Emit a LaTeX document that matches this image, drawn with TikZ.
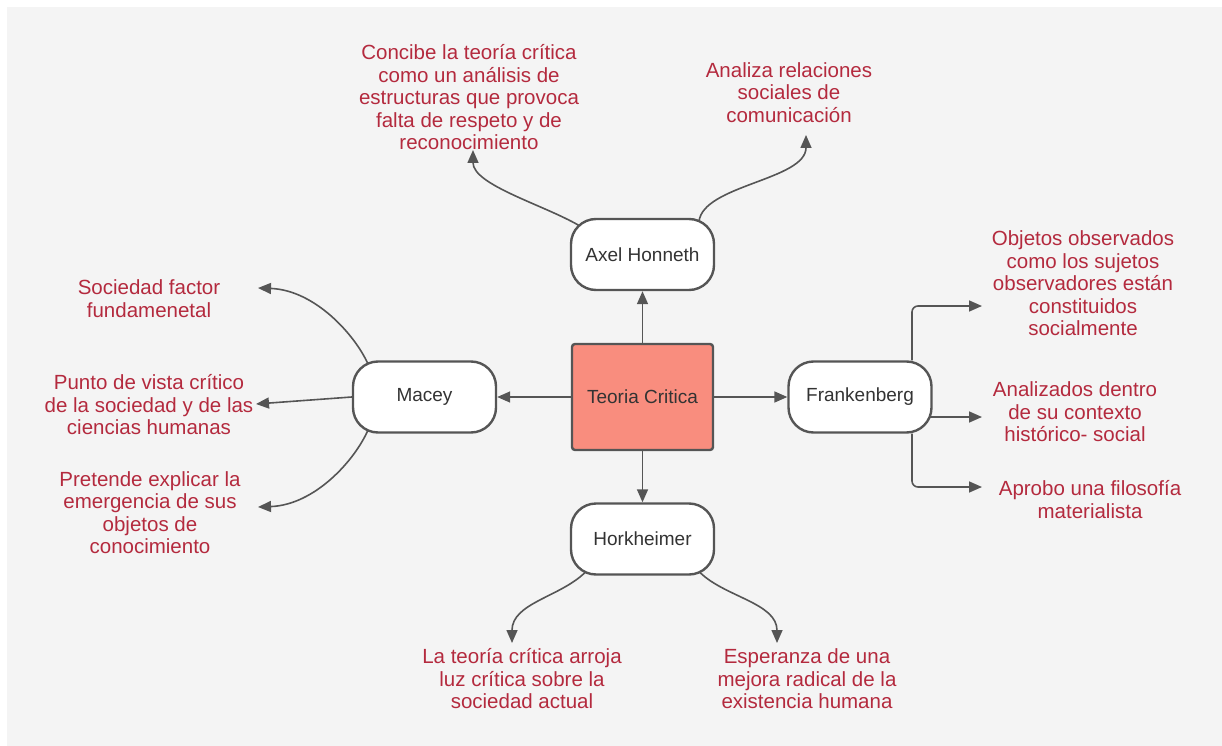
\documentclass[tikz,border=0pt]{standalone}
\usepackage{fontspec}
\setmainfont{Liberation Sans}
\usetikzlibrary{arrows.meta}
\definecolor{bg}{HTML}{F4F4F4}
\definecolor{ln}{HTML}{555555}
\definecolor{redtxt}{HTML}{B42A3E}
\definecolor{salmon}{HTML}{F98D7E}
\definecolor{ntxt}{HTML}{333333}
\begin{document}
\begin{tikzpicture}[x=1pt,y=-1pt,
 pill/.style={draw=ln, line width=2.4pt, fill=white, rounded corners=25pt, minimum width=143pt, minimum height=71pt, text=ntxt, font=\fontsize{19}{22}\selectfont, inner sep=0pt},
 core/.style={draw=ln, line width=2.4pt, fill=salmon, rounded corners=3pt, minimum width=141pt, minimum height=106pt, text=ntxt, font=\fontsize{19}{22}\selectfont, inner sep=0pt},
 note/.style={text=redtxt, align=center, font=\fontsize{20.5}{22.5}\selectfont, inner sep=0pt},
 conn/.style={draw=ln, line width=1.6pt, -{Triangle[length=13pt,width=11pt]}},
 elbow/.style={conn, rounded corners=6pt},
]
\useasboundingbox (0,0) rectangle (1222,746);
\fill[white] (0,0) rectangle (1222,746);
\fill[bg] (7,7) rectangle (1222,746);

% main nodes
\node[core] (core) at (642.5,397) {Teoria Critica};
\node[pill] (axel) at (642.5,254.5) {Axel Honneth};
\node[pill] (macey) at (424.5,397) {Macey};
\node[pill] (frank) at (860,397) {Frankenberg};
\node[pill] (hork) at (642.5,539) {Horkheimer};

% notes
\node[note] (concibe) at (469,97.5) {Concibe la teoría crítica\\como un análisis de\\estructuras que provoca\\falta de respeto y de\\reconocimiento};
\node[note] (analiza) at (789,92.5) {Analiza relaciones\\sociales de\\comunicación};
\node[note] (sociedad) at (149,298.5) {Sociedad factor\\fundamenetal};
\node[note] (punto) at (149,405) {Punto de vista crítico\\de la sociedad y de las\\ciencias humanas};
\node[note] (pretende) at (150,512.5) {Pretende explicar la\\emergencia de sus\\objetos de\\conocimiento};
\node[note] (objetos) at (1083,283.5) {Objetos observados\\como los sujetos\\observadores están\\constituidos\\socialmente};
\node[note] (analizados) at (1075,412) {Analizados dentro\\de su contexto\\histórico- social};
\node[note] (aprobo) at (1090,499.5) {Aprobo una filosofía\\materialista};
\node[note] (lateoria) at (522,679) {La teoría crítica arroja\\luz crítica sobre la\\sociedad actual};
\node[note] (esperanza) at (807,679) {Esperanza de una\\mejora radical de la\\existencia humana};

% connector ends
\coordinate (ax1) at (579,225.5);
\coordinate (ax2) at (699,221.5);
\coordinate (tconcibe) at (473,150);
\coordinate (tanaliza) at (806,135);
\coordinate (mc1) at (368,364);
\coordinate (mc3) at (368,430);
\coordinate (tsoc) at (258,288);
\coordinate (tpunto) at (256,404);
\coordinate (tpret) at (258,507);
\coordinate (hk1) at (585,572.5);
\coordinate (hk2) at (700,572.5);
\coordinate (tlat) at (512,643);
\coordinate (tesp) at (777,643);
\coordinate (fr2) at (930,417);
\coordinate (tobj) at (982,306);
\coordinate (tanz) at (982,417);
\coordinate (tapr) at (982,487);

% central connectors
\draw[conn] (core.north) -- (axel.south);
\draw[conn] (core.west) -- (macey.east);
\draw[conn] (core.east) -- (frank.west);
\draw[conn] (core.south) -- (hork.north);

% Axel Honneth
\draw[conn] (ax1) .. controls (544,205) and (473,185) .. (tconcibe);
\draw[conn] (ax2) .. controls (703,185) and (806,180) .. (tanaliza);

% Macey
\draw[conn] (mc1) .. controls (355,335) and (315,290) .. (tsoc);
\draw[conn] (macey.west) -- (tpunto);
\draw[conn] (mc3) .. controls (355,460) and (315,505) .. (tpret);

% Horkheimer
\draw[conn] (hk1) .. controls (560,597) and (512,603) .. (tlat);
\draw[conn] (hk2) .. controls (725,597) and (777,603) .. (tesp);

% Frankenberg
\draw[elbow] ([xshift=52pt]frank.north) |- (tobj);
\draw[conn] (fr2) -- (tanz);
\draw[elbow] ([xshift=52pt]frank.south) |- (tapr);
\end{tikzpicture}
\end{document}
